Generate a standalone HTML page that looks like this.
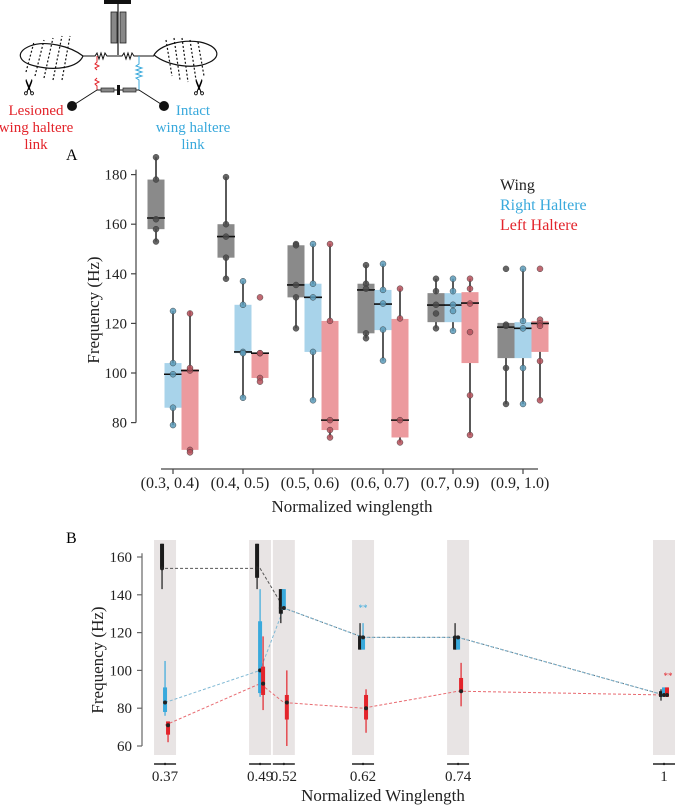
<!DOCTYPE html>
<html><head><meta charset="utf-8"><style>
body{margin:0;background:#fff;}
svg{display:block;}
svg text{font-family:"Liberation Serif","DejaVu Serif",serif;}
</style></head><body>
<svg id="fig" width="678" height="806" viewBox="0 0 678 806" font-family="Liberation Serif, DejaVu Serif, serif">
<g>
  <rect x="104" y="0" width="27" height="4" fill="#111"/>
  <line x1="118" y1="3" x2="118" y2="55" stroke="#111" stroke-width="1.2"/>
  <rect x="111" y="12" width="6" height="31" fill="#888" stroke="#222" stroke-width="0.8"/>
  <rect x="120" y="12" width="6" height="31" fill="#888" stroke="#222" stroke-width="0.8"/>
  <path d="M83,56 C70,46 45,40 30,46 C15,52 18,62 35,66 C55,71 78,68 83,56 Z" fill="none" stroke="#111" stroke-width="1.2"/>
  <path d="M154,55 C160,45 182,39 200,42 C218,46 222,56 210,62 C195,70 168,66 154,55 Z" fill="none" stroke="#111" stroke-width="1.2"/>
  <g stroke="#111" stroke-width="1.2" stroke-dasharray="2,2">
    <line x1="26" y1="72" x2="34" y2="42"/><line x1="35" y1="76" x2="44" y2="40"/><line x1="44" y1="78" x2="53" y2="38"/><line x1="53" y1="80" x2="62" y2="36"/><line x1="62" y1="80" x2="70" y2="36"/>
    <line x1="166" y1="40" x2="172" y2="76"/><line x1="174" y1="38" x2="180" y2="80"/><line x1="182" y1="38" x2="188" y2="82"/><line x1="190" y1="40" x2="196" y2="80"/><line x1="198" y1="42" x2="204" y2="76"/>
  </g>
  <path d="M83,56 L95,56 L97,53 L99,59 L101,53 L103,59 L105,53 L107,56 L118,56 L122,56 L124,53 L126,59 L128,53 L130,59 L132,53 L134,56 L154,56" fill="none" stroke="#111" stroke-width="1"/>
  <path d="M97,56 L97,62 L95,64 L99,66 L95,68 L97,70 M97,78 L95,80 L99,82 L95,84 L97,86 L97,90" fill="none" stroke="#e3242b" stroke-width="1"/>
  <path d="M139,56 L139,64 L136,66 L142,68 L136,70 L142,72 L136,74 L142,76 L136,78 L139,80 L139,90" fill="none" stroke="#39a9dc" stroke-width="1"/>
  <line x1="97" y1="90" x2="139" y2="90" stroke="#111" stroke-width="1"/>
  <rect x="101" y="88" width="13" height="4" fill="#888" stroke="#222" stroke-width="0.7"/>
  <rect x="123" y="88" width="13" height="4" fill="#888" stroke="#222" stroke-width="0.7"/>
  <rect x="117" y="85" width="3" height="10" fill="#111"/>
  <line x1="97" y1="90" x2="72" y2="106" stroke="#111" stroke-width="1"/>
  <line x1="139" y1="90" x2="164" y2="106" stroke="#111" stroke-width="1"/>
  <circle cx="72" cy="106" r="5" fill="#111"/><circle cx="164" cy="106" r="5" fill="#111"/>
  <text x="30" y="94" font-size="22" text-anchor="middle" transform="rotate(-90 30 87)">✂</text>
  <text x="200" y="94" font-size="22" text-anchor="middle" transform="rotate(-90 200 87)">✂</text>
  <g fill="#e3242b" font-size="15" text-anchor="middle">
    <text x="36" y="115">Lesioned</text><text x="36" y="132">wing haltere</text><text x="36" y="149">link</text></g>
  <g fill="#39a9dc" font-size="15" text-anchor="middle">
    <text x="193" y="115">Intact</text><text x="193" y="132">wing haltere</text><text x="193" y="149">link</text></g>
</g>
<text x="66" y="160" font-size="16">A</text>
<g id="chartA"></g>
<g font-size="16">
  <text x="500" y="190" fill="#222">Wing</text>
  <text x="500" y="210" fill="#39a9dc">Right Haltere</text>
  <text x="500" y="230" fill="#e3242b">Left Haltere</text>
</g>
<text x="66" y="543" font-size="16">B</text>
<g id="chartB"></g>
</svg>
<script>
// ---- Panel A data ----
const catsA = ["(0.3, 0.4)","(0.4, 0.5)","(0.5, 0.6)","(0.6, 0.7)","(0.7, 0.9)","(0.9, 1.0)"];
const ticksA = [80,100,120,140,160,180];
// [q1, median, q3, whiskerLo, whiskerHi]
const wingBox = [[158,162.5,178,153,187],[146.5,155,160,138,179],[130.5,135.5,151.5,118,152],[116,133.5,136,114,143.5],[120.5,127.4,132.2,118,138],[106,118.5,120.2,87.5,120]];
const rightBox = [[86,99.5,104,79,125],[108,108.5,127.5,90,137],[108.5,130.5,136,89,152],[117.3,127.8,133.5,105,144],[120.5,127.4,132.2,117,138],[106,118,120.5,87.5,142]];
const leftBox = [[69,101,101.5,69,125],[98,108,108,98,108],[77,81,121,74,152],[74,81,121.8,72,134],[104,128.2,132.6,75,138],[108.5,120,121,89,121]];
const wingPts = [[187,178,162,158,153],[179,160,155,146.5,138],[152,151.5,135.5,130.5,118],[143.5,136,134,116,114],[138,133,127.5,124,118],[142,119,119.5,102,87.5]];
const rightPts = [[125,104,99.5,86,79],[137,127.5,108.5,108,90],[152,136,130.5,108.5,89],[144,133.5,128,117.5,105],[138,133,127.5,125,117],[142,121,118,102,87.5]];
const leftPts = [[124,101,102,69,68],[130.5,108,108,98,96.5],[152,121,81,77,74],[134,122,81,72],[138,134,128,116.5,91,75],[142,121.5,120,119,104.8,89]];

// ---- Panel B data ----
const xsB = [0.37,0.49,0.52,0.62,0.74,1];
const ticksB = [60,80,100,120,140,160];
const wingMed = [154,154,133,117.5,117.5,87];
const rightMed = [83,100,133,117.5,117.5,87];
const leftMed = [71,93,83,80,89,87];
// [thickLo, thickHi, thinLo, thinHi]
const wingRng = [[154,167,143,167],[149,167,143,167],[130,143,125,143],[111,118,111,125],[111,118,111,125],[86,89,84,90]];
const rightRng = [[78,91,76,105],[88,126,86,143],[132,143,132,143],[111,118,111,125],[111,118,111,118],[86,91,86,91]];
const leftRng = [[66,73,62,73],[87,102,79,118],[74,87,60,100],[74,87,67,90],[89,96,81,104],[86,91,86,91]];
const sigRight = [null,null,null,133,null,null];
const sigLeft = [null,null,null,null,null,97];

const NS="http://www.w3.org/2000/svg";
function mk(parent,tag,attrs,text){const e=document.createElementNS(NS,tag);for(const k in attrs)e.setAttribute(k,attrs[k]);if(text!==undefined)e.textContent=text;parent.appendChild(e);return e;}

// Panel A
const A=document.getElementById('chartA');
const yA=v=>373-(v-100)*2.48;
const xA=i=>173+i*70;
let ax=mk(A,'line',{x1:136,y1:yA(182),x2:136,y2:yA(80),stroke:'#444','stroke-width':1.2});


ticksA.forEach(t=>{
  mk(A,'line',{x1:131,y1:yA(t),x2:136,y2:yA(t),stroke:'#444','stroke-width':1.2});
  const l=mk(A,'text',{x:127,y:yA(t)+5,'font-size':15,'text-anchor':'end',fill:'#222'},t);
  
  
});
let xa=mk(A,'line',{x1:161,y1:469,x2:538,y2:469,stroke:'#444','stroke-width':1.2});


catsA.forEach((c,i)=>{
  mk(A,'line',{x1:xA(i),y1:469,x2:xA(i),y2:474,stroke:'#444','stroke-width':1.2});
  const l=mk(A,'text',{x:xA(i)-3,y:488,'font-size':16,'text-anchor':'middle',fill:'#222'},c);
  
  
});
let yt=mk(A,'text',{x:0,y:0,'font-size':17,'text-anchor':'middle',fill:'#222',transform:'translate(99,310) rotate(-90)'},'Frequency (Hz)');


let xt=mk(A,'text',{x:352,y:512,'font-size':17,'text-anchor':'middle',fill:'#222'},'Normalized winglength');


const seriesA=[{b:wingBox,p:wingPts,off:-17,fill:'#8a8a8a',pt:'#4a4a4a',n:'wing'},{b:rightBox,p:rightPts,off:0,fill:'#a8d3ea',pt:'#5b9ab8',n:'right-haltere'},{b:leftBox,p:leftPts,off:17,fill:'#ec9a9e',pt:'#b5505a',n:'left-haltere'}];
seriesA.forEach(s=>{
  s.b.forEach((b,i)=>{
    const cx=xA(i)+s.off;
    mk(A,'line',{x1:cx,y1:yA(b[4]),x2:cx,y2:yA(b[3]),stroke:'#222','stroke-width':1.5});
    const r=mk(A,'rect',{x:cx-8.5,y:yA(b[2]),width:17,height:Math.max(1,yA(b[0])-yA(b[2])),fill:s.fill});
    
    
    mk(A,'line',{x1:cx-9,y1:yA(b[1]),x2:cx+9,y2:yA(b[1]),stroke:'#111','stroke-width':1.6});
    s.p[i].forEach(v=>{
      const c=mk(A,'circle',{cx:cx,cy:yA(v),r:3,fill:s.pt,'fill-opacity':0.85,stroke:'#333','stroke-width':0.4});
      
      
    });
  });
});

// Panel B
const B=document.getElementById('chartB');
const yB=v=>746-(v-60)*1.89;
const xB=v=>-128+v*792;
xsB.forEach(v=>{
  const r=mk(B,'rect',{x:xB(v)-11,y:540,width:22,height:215,fill:'#e8e4e4'});
  
  
  mk(B,'line',{x1:xB(v)-11,y1:764,x2:xB(v)+11,y2:764,stroke:'#222','stroke-width':1.5});
  mk(B,'circle',{cx:xB(v),cy:764,r:1.2,fill:'#222'});
  const l=mk(B,'text',{x:xB(v),y:781,'font-size':15,'text-anchor':'middle',fill:'#222'},String(v));
  
  
});
let ayb=mk(B,'line',{x1:142,y1:yB(162),x2:142,y2:yB(60),stroke:'#666','stroke-width':1.2});


ticksB.forEach(t=>{
  mk(B,'line',{x1:137,y1:yB(t),x2:142,y2:yB(t),stroke:'#666','stroke-width':1.2});
  const l=mk(B,'text',{x:132,y:yB(t)+5,'font-size':15,'text-anchor':'end',fill:'#222'},t);
  
  
});
let ytb=mk(B,'text',{x:0,y:0,'font-size':17,'text-anchor':'middle',fill:'#222',transform:'translate(103,660) rotate(-90)'},'Frequency (Hz)');


let xtb=mk(B,'text',{x:383,y:801,'font-size':17,'text-anchor':'middle',fill:'#222'},'Normalized Winglength');


const seriesB=[{m:wingMed,r:wingRng,off:-3,c:'#1a1a1a',lc:'#555',n:'wing'},{m:rightMed,r:rightRng,off:0,c:'#39a9dc',lc:'#7fb8d4',n:'right-haltere'},{m:leftMed,r:leftRng,off:3,c:'#e3242b',lc:'#e86a70',n:'left-haltere'}];
seriesB.forEach(s=>{
  const d=s.m.map((v,i)=>(i?'L':'M')+xB(xsB[i])+','+yB(v)).join(' ');
  const p=mk(B,'path',{d:d,fill:'none',stroke:s.lc,'stroke-width':1,'stroke-dasharray':'3,2'});
  
  
});
seriesB.forEach(s=>{
  s.r.forEach((r,i)=>{
    const cx=xB(xsB[i])+s.off;
    mk(B,'line',{x1:cx,y1:yB(r[3]),x2:cx,y2:yB(r[2]),stroke:s.c,'stroke-width':1.2});
    const b=mk(B,'rect',{x:cx-2,y:yB(r[1]),width:4,height:yB(r[0])-yB(r[1]),fill:s.c});
    
    
    mk(B,'circle',{cx:cx,cy:yB(s.m[i]),r:2,fill:'#222'});
  });
});
sigRight.forEach((v,i)=>{if(v!==null){const t=mk(B,'text',{x:xB(xsB[i]),y:yB(v)+3,'font-size':9,'text-anchor':'middle',fill:'#39a9dc'},'**');}});
sigLeft.forEach((v,i)=>{if(v!==null){const t=mk(B,'text',{x:xB(xsB[i])+4,y:yB(v)+3,'font-size':9,'text-anchor':'middle',fill:'#e3242b'},'**');}});
</script>
</body></html>
